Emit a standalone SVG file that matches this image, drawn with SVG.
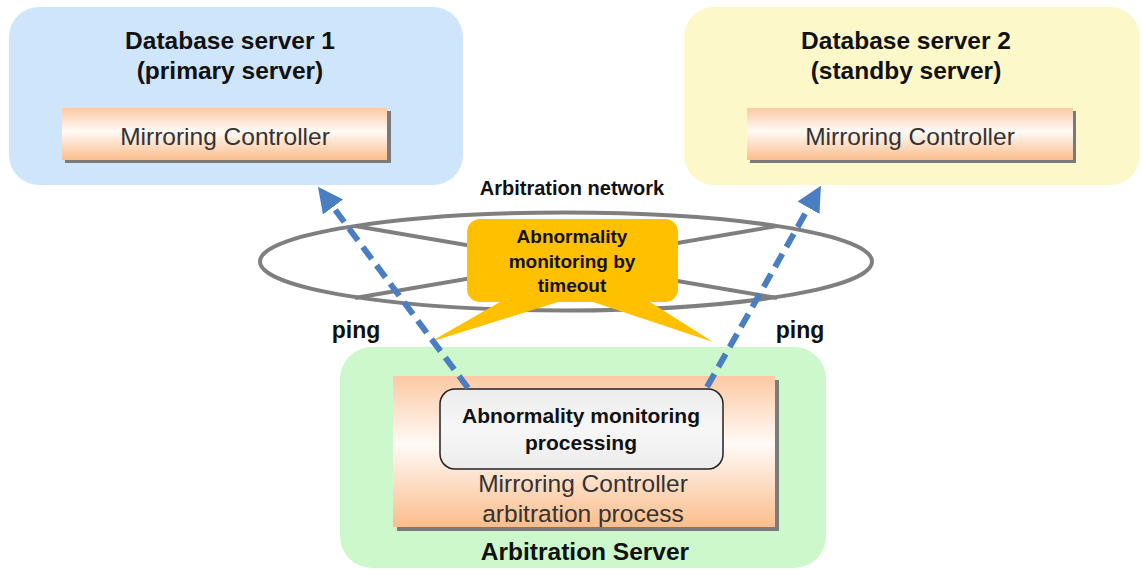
<svg xmlns="http://www.w3.org/2000/svg" width="1143" height="570" viewBox="0 0 1143 570">
<defs>
<linearGradient id="og" x1="0" y1="0" x2="0" y2="1">
<stop offset="0" stop-color="#fcc9a3"/>
<stop offset="0.45" stop-color="#fffaf6"/>
<stop offset="1" stop-color="#fbbd8c"/>
</linearGradient>
<linearGradient id="gg" x1="0" y1="0" x2="0" y2="1">
<stop offset="0" stop-color="#ececec"/>
<stop offset="0.5" stop-color="#f7f7f7"/>
<stop offset="1" stop-color="#ececec"/>
</linearGradient>
<marker id="ah" viewBox="0 0 10 10" refX="2" refY="5" markerWidth="4.2" markerHeight="4.6" markerUnits="strokeWidth" orient="auto">
<path d="M0,0 L10,5 L0,10 z" fill="#4a7ec2"/>
</marker>
</defs>
<style>
.bold{font-family:"Liberation Sans",Arial,sans-serif;font-weight:bold;fill:#111;text-anchor:middle}
.reg{font-family:"Liberation Sans",Arial,sans-serif;fill:#333;text-anchor:middle}
.shadow{fill:#7a7a7a}
.bar{fill:url(#og)}
.net{fill:none;stroke:#7f7f7f;stroke-width:4}
.ping{fill:none;stroke:#4a7ec2;stroke-width:6;stroke-dasharray:15 8}
</style>

<g id="db1">
<rect x="9" y="7" width="454" height="178" rx="30" fill="#cfe5fb"/>
<text class="bold" x="230" y="49" font-size="24.5">Database server 1</text>
<text class="bold" x="230" y="79" font-size="24.5">(primary server)</text>
<rect class="shadow" x="65" y="111" width="326" height="52"/>
<rect class="bar" x="62" y="108" width="325" height="52"/>
<text class="reg" x="225" y="145" font-size="24.5">Mirroring Controller</text>
</g>

<g id="db2">
<rect x="684" y="7" width="456" height="178" rx="30" fill="#fdf8c9"/>
<text class="bold" x="906" y="49" font-size="24.5">Database server 2</text>
<text class="bold" x="906" y="79" font-size="24.5">(standby server)</text>
<rect class="shadow" x="750" y="111" width="326" height="52"/>
<rect class="bar" x="747" y="108" width="326" height="52"/>
<text class="reg" x="910" y="145" font-size="24.5">Mirroring Controller</text>
</g>

<g id="network">
<text class="bold" x="572" y="195" font-size="20">Arbitration network</text>
<ellipse class="net" cx="566" cy="261.5" rx="306" ry="49"/>
<line class="net" x1="355" y1="226" x2="777" y2="298"/>
<line class="net" x1="355" y1="298" x2="777" y2="226"/>
</g>

<g id="callout">
<path d="M500,302 L430,342 L558,302 Z" fill="#ffc000"/>
<path d="M593,302 L713,342 L650,302 Z" fill="#ffc000"/>
<rect x="467" y="219" width="211" height="83" rx="13" fill="#ffc000"/>
<text class="bold" x="572" y="243" font-size="19">Abnormality</text>
<text class="bold" x="572" y="268" font-size="19">monitoring by</text>
<text class="bold" x="572" y="292" font-size="19">timeout</text>
</g>

<g id="arb">
<rect x="340" y="347" width="486" height="221" rx="32" fill="#ccf8cc"/>
<rect class="shadow" x="397" y="380" width="382" height="151"/>
<rect class="bar" x="393" y="376" width="382" height="151"/>
<text class="reg" x="583" y="492" font-size="24.5">Mirroring Controller</text>
<text class="reg" x="583" y="522" font-size="24.5">arbitration process</text>
<text class="bold" x="585" y="560" font-size="24.5">Arbitration Server</text>
</g>

<g id="monitor">
<rect x="440" y="389" width="283" height="80" rx="15" fill="url(#gg)" stroke="#222" stroke-width="1.5"/>
<text class="bold" x="581" y="423" font-size="21">Abnormality monitoring</text>
<text class="bold" x="581" y="450" font-size="21">processing</text>
</g>

<g id="connectors">
<line class="ping" x1="468" y1="388" x2="330" y2="203" marker-end="url(#ah)"/>
<line class="ping" x1="707" y1="387" x2="811" y2="203.4" marker-end="url(#ah)"/>
<text class="bold" x="356" y="338" font-size="23">ping</text>
<text class="bold" x="800" y="338" font-size="23">ping</text>
</g>
</svg>
